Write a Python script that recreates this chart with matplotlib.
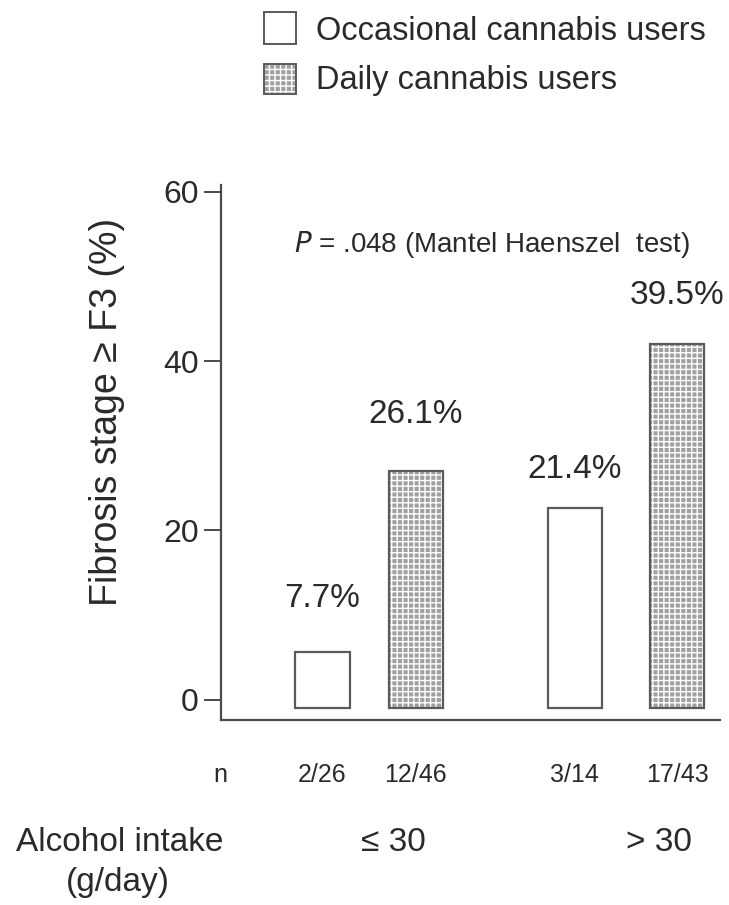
import matplotlib
matplotlib.use("Agg")
import matplotlib.pyplot as plt
import matplotlib.transforms as mtransforms

# ---- data ----
groups = ["\u2264 30", "> 30"]
series = ["Occasional cannabis users", "Daily cannabis users"]
bar_pos = [1.0, 2.0, 3.7, 4.8]
bar_heights = [5.6, 27.0, 22.7, 42.0]          # as drawn
bar_labels = ["7.7%", "26.1%", "21.4%", "39.5%"]
n_labels = ["2/26", "12/46", "3/14", "17/43"]
bar_kind = [0, 1, 0, 1]                         # 0 = occasional, 1 = daily
yticks = [0, 20, 40, 60]

# gap between bar top and its label (the original is not regular)
label_gap = [6.3, 6.7, 4.5, 5.7]

plt.rcParams["font.family"] = ["Liberation Sans", "DejaVu Sans"]

line_col = "#4a4a4a"
text_col = "#2a2a2a"
fill_col = "#a0a0a0"

fig = plt.figure(figsize=(7.29, 9.05), dpi=100)
ax = fig.add_axes([0.303, 0.2044, 0.685, 0.5912])

bottom = -1.0
for x, h, k in zip(bar_pos, bar_heights, bar_kind):
    if k == 1:
        ax.bar(x, h - bottom, bottom=bottom, width=0.58, color=fill_col,
               edgecolor="white", hatch="+++", linewidth=0)
    ax.bar(x, h - bottom, bottom=bottom, width=0.58, fill=False,
           edgecolor="#5a5a5a", linewidth=1.6)

for x, h, g, lab in zip(bar_pos, bar_heights, label_gap, bar_labels):
    ax.text(x, h + g, lab, ha="center", va="center", fontsize=24, color=text_col)

ax.set_xlim(-0.088, 5.26)
ax.set_ylim(-2.4, 60.8)
ax.set_yticks(yticks)
ax.set_yticklabels([str(t) for t in yticks], fontsize=23, color=text_col)
ax.tick_params(axis="y", length=12, width=1.4, color=line_col, pad=4)
ax.set_xticks([])
ax.spines["top"].set_visible(False)
ax.spines["right"].set_visible(False)
for s in ("left", "bottom"):
    ax.spines[s].set_color(line_col)
    ax.spines[s].set_linewidth(1.6)

ax.set_ylabel("Fibrosis stage \u2265 F3 (%)", fontsize=27, color=text_col)
ax.yaxis.set_label_coords(-0.192, 0.576)

ax.text(2.81, 53.8, "$\\it{P}$ = .048 (Mantel Haenszel  test)", ha="center",
        va="center", fontsize=20, color=text_col)

# n row and group row below axis
trans = mtransforms.blended_transform_factory(ax.transData, fig.transFigure)
ny = 1 - 775 / 905
ax.text(-0.09, ny, "n", transform=trans, ha="center", va="center", fontsize=18, color=text_col)
for x, lab in zip(bar_pos, n_labels):
    ax.text(x, ny, lab, transform=trans, ha="center", va="center", fontsize=18, color=text_col)

gy = 1 - 842 / 905
ax.text(1.76, gy, groups[0], transform=trans,
        ha="center", va="center", fontsize=24, color=text_col)
ax.text(4.6, gy, groups[1], transform=trans,
        ha="center", va="center", fontsize=24, color=text_col)
fig.text(120 / 729, 1 - 842 / 905, "Alcohol intake", ha="center", va="center",
         fontsize=24, color=text_col)
fig.text(118 / 729, 1 - 882 / 905, "(g/day)", ha="center", va="center",
         fontsize=24, color=text_col)

# legend drawn by hand at top
lax = fig.add_axes([0, 0, 1, 1], facecolor="none")
lax.set_xlim(0, 729)
lax.set_ylim(905, 0)
lax.axis("off")
lax.add_patch(plt.Rectangle((264, 12), 32, 32, fill=False, edgecolor="#5a5a5a", lw=1.4))
lax.add_patch(plt.Rectangle((264, 64), 32, 30, facecolor=fill_col, edgecolor="white",
                            hatch="+++", lw=0))
lax.add_patch(plt.Rectangle((264, 64), 32, 30, fill=False, edgecolor="#5a5a5a", lw=1.4))
lax.text(316, 32, series[0], ha="left", va="center", fontsize=23.5, color=text_col)
lax.text(316, 80, series[1], ha="left", va="center", fontsize=23.5, color=text_col)

fig.savefig("out.png", dpi=100)
